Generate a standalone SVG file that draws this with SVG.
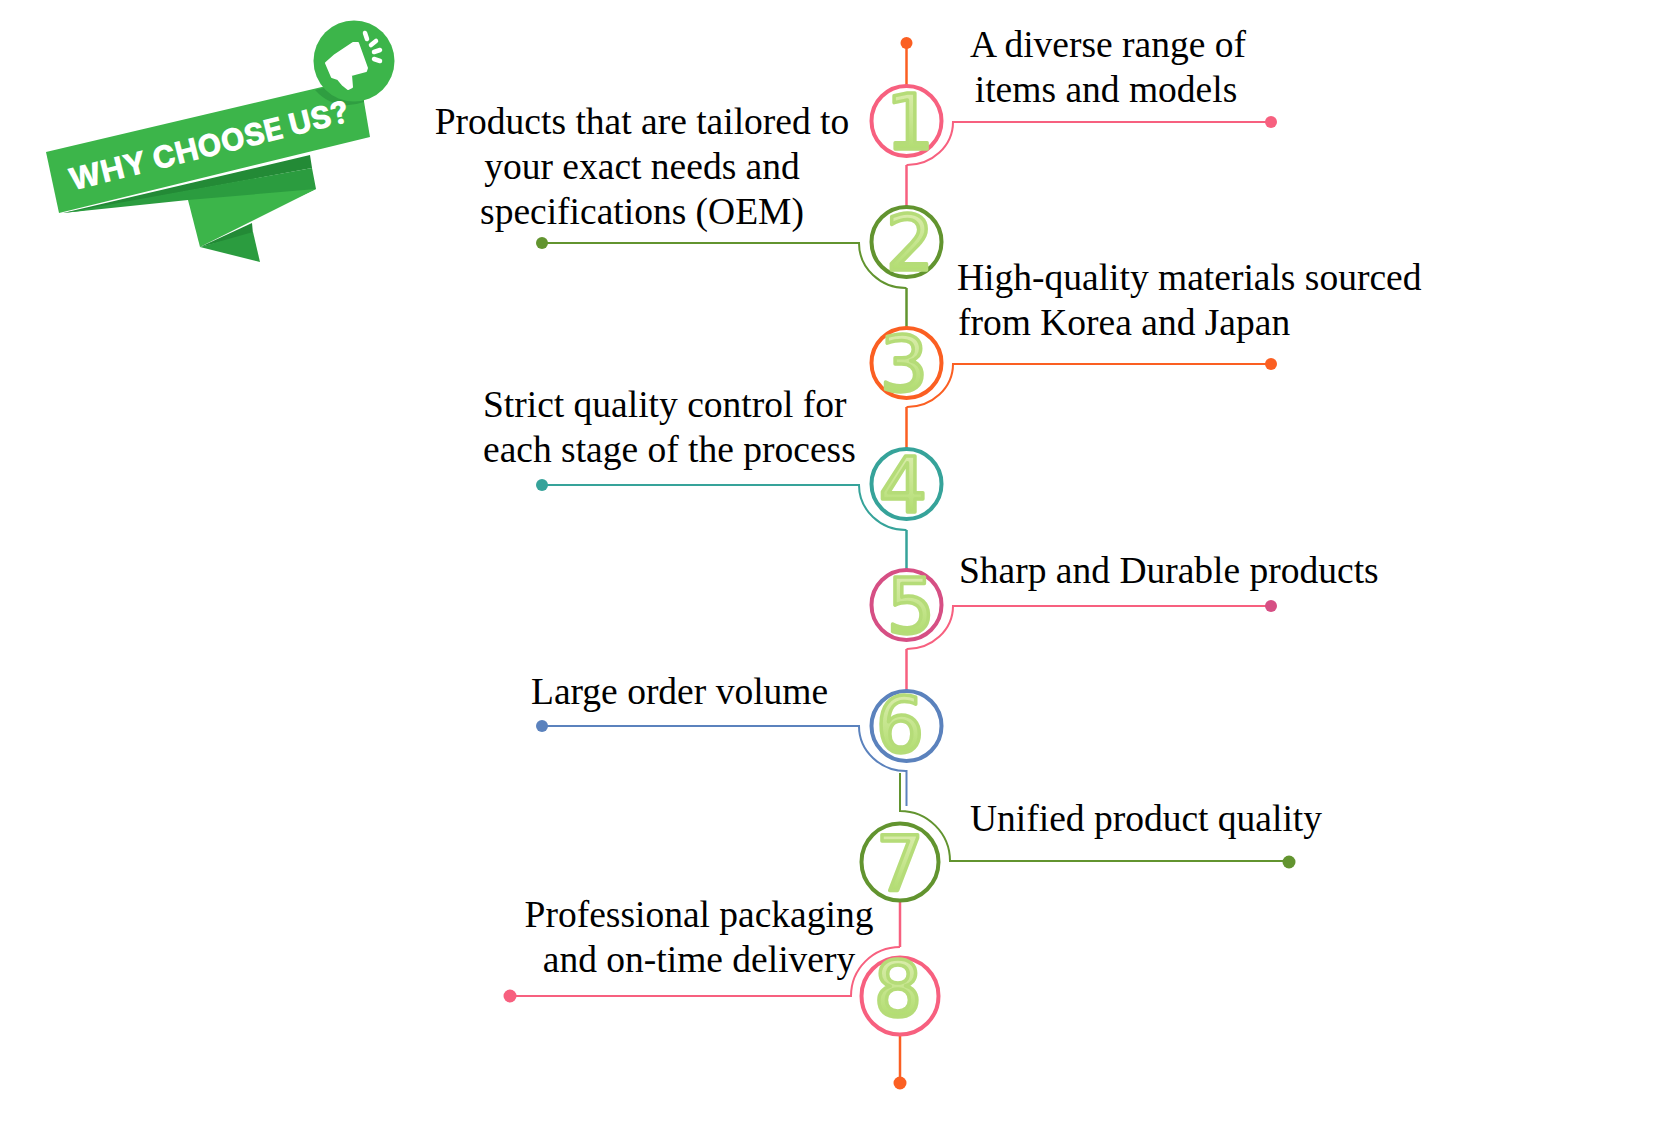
<svg xmlns="http://www.w3.org/2000/svg" width="1666" height="1131" viewBox="0 0 1666 1131">
<style>
.t{font-family:"Liberation Serif","Times New Roman",serif;font-size:37.5px;fill:#000}
.m{text-anchor:middle}
.c{fill:#fff;stroke-width:4}
.l{fill:none;stroke-width:2}
.v{fill:none;stroke-width:2.5}
.d{font-family:"DejaVu Sans",sans-serif;font-size:76px;text-anchor:middle;fill:url(#g);stroke:#b5dc78;stroke-width:3.5;stroke-linejoin:round}
.pk{stroke:#f7607f}.gr{stroke:#62942f}.or{stroke:#fb5f22}.te{stroke:#36a39a}.ma{stroke:#d64f84}.bl{stroke:#5b82bd}
</style>
<defs>
<linearGradient id="g" x1="0" y1="0" x2="0" y2="1"><stop offset="0" stop-color="#e3efb8"/><stop offset="0.5" stop-color="#c5e58d"/><stop offset="1" stop-color="#a5d85f"/></linearGradient>
</defs>
<rect width="1666" height="1131" fill="#fff"/>
<g id="banner">
<polygon points="63,213 310,155 312,168 80,211" fill="#238a36"/>
<polygon points="63,213 312,168 316,189 253,218 188,200" fill="#2b9c3f"/>
<polygon points="188,200 316,189 200,247" fill="#3cb54a"/>
<polygon points="200,247 252,223 253,234" fill="#238a36"/>
<polygon points="200,247 253,232 260,262" fill="#2b9c3f"/>
<polygon points="46,152 360,78 370,137 59,213" fill="#3cb54a"/>
<path d="M315,90 L362,79 L364,102 Q335,112 315,90Z" fill="#2f9e41"/>
<circle cx="354" cy="61" r="40.5" fill="#3cb54a"/>
<polygon points="326,63 335,55 353,43 358,43 367,68 366,71 351,75 352,87 348,89 343,85 338,79 332,77" fill="#fff" stroke="#fff" stroke-width="2" stroke-linejoin="round"/>
<g stroke="#fff" stroke-width="4.5" stroke-linecap="round">
<line x1="365" y1="33" x2="367" y2="39"/><line x1="371" y1="45" x2="376" y2="41"/><line x1="374" y1="52" x2="380" y2="50"/><line x1="374" y1="59" x2="380" y2="61"/>
</g>
<text transform="translate(72,191) rotate(-14)" font-family="Inter,'Liberation Sans',sans-serif" font-weight="800" font-size="31" fill="#fff">WHY CHOOSE US?</text>
</g>
<g id="connectors">
<path class="v or" d="M906.5 43V86"/>
<path class="l pk" d="M1271 122H953A46 43 0 0 1 906.5 165"/>
<path class="v pk" d="M906.5 165V207"/>
<path class="l gr" d="M542 243H859A47 45 0 0 0 906.5 288"/>
<path class="v gr" d="M906.5 288V328"/>
<path class="l or" d="M1271 364H953A46 43 0 0 1 906.5 407"/>
<path class="v or" d="M906.5 407V449"/>
<path class="l te" d="M542 485H859A47 45 0 0 0 906.5 530"/>
<path class="v te" d="M906.5 530V570"/>
<path class="l pk" d="M1271 606H953A46 43 0 0 1 906.5 649"/>
<path class="v pk" d="M906.5 649V691"/>
<path class="l bl" d="M542 726H859A47 45 0 0 0 906.5 771V806"/>
<path class="l gr" d="M1289 861H950A50 50 0 0 0 900 811V773"/>
<path class="v pk" d="M900 901V947"/>
<path class="l pk" d="M900 947A49 49 0 0 0 851 996H510"/>
<path class="v or" d="M900 1036V1083"/>
</g>
<g id="dots">
<circle cx="906.5" cy="43" r="6" fill="#fb5f22"/>
<circle cx="1271" cy="122" r="6" fill="#f7607f"/>
<circle cx="542" cy="243" r="6" fill="#62942f"/>
<circle cx="1271" cy="364" r="6" fill="#fb5f22"/>
<circle cx="542" cy="485" r="6" fill="#36a39a"/>
<circle cx="1271" cy="606" r="6" fill="#d64f84"/>
<circle cx="542" cy="726" r="6" fill="#5b82bd"/>
<circle cx="1289" cy="862" r="6.5" fill="#62942f"/>
<circle cx="510" cy="996" r="6.5" fill="#f7607f"/>
<circle cx="900" cy="1083" r="6.5" fill="#fb5f22"/>
</g>
<g id="node1"><circle class="c pk" cx="906.5" cy="121" r="35"/><text class="d" x="910" y="149">1</text><text class="t m" x="1108" y="57">A diverse range of</text><text class="t m" x="1106" y="102">items and models</text></g>
<g id="node2"><circle class="c gr" cx="906.5" cy="242" r="35"/><text class="d" x="910" y="270">2</text><text class="t m" x="642" y="134">Products that are tailored to</text><text class="t m" x="642" y="179">your exact needs and</text><text class="t m" x="642" y="224">specifications (OEM)</text></g>
<g id="node3"><circle class="c or" cx="906.5" cy="363" r="35"/><text class="d" x="904" y="391">3</text><text class="t" x="957" y="290">High-quality materials sourced</text><text class="t" x="958" y="335">from Korea and Japan</text></g>
<g id="node4"><circle class="c te" cx="906.5" cy="484" r="35"/><text class="d" x="903" y="512">4</text><text class="t" x="483" y="417">Strict quality control for</text><text class="t" x="483" y="462">each stage of the process</text></g>
<g id="node5"><circle class="c ma" cx="906.5" cy="605" r="35"/><text class="d" x="911" y="633">5</text><text class="t" x="959" y="583">Sharp and Durable products</text></g>
<g id="node6"><circle class="c bl" cx="906.5" cy="726" r="35"/><text class="d" x="900" y="752">6</text><text class="t" x="531" y="704">Large order volume</text></g>
<g id="node7"><circle class="c gr" cx="900" cy="862" r="38.5"/><text class="d" x="900" y="891">7</text><text class="t" x="970" y="831">Unified product quality</text></g>
<g id="node8"><circle class="c pk" cx="900" cy="996" r="38.5"/><text class="d" x="898" y="1016">8</text><text class="t m" x="699" y="927">Professional packaging</text><text class="t m" x="699" y="972">and on-time delivery</text></g>
</svg>
